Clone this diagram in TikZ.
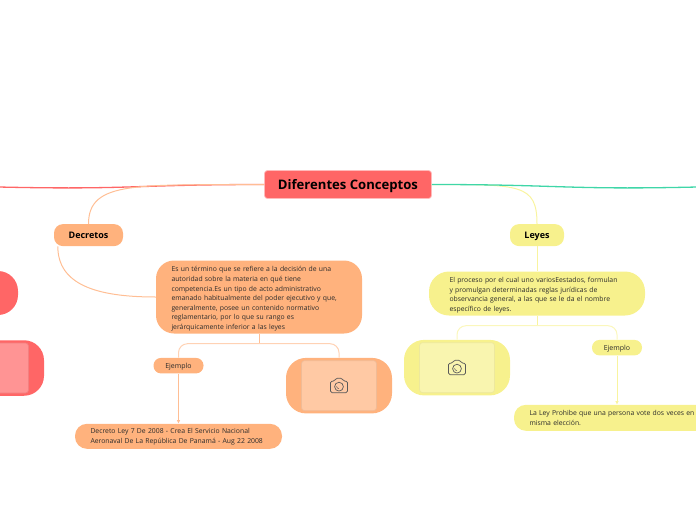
\documentclass[tikz,border=0pt]{standalone}
\usepackage{fontspec}
\setmainfont{Open Sans}
\usepackage{xcolor}
\usetikzlibrary{arrows.meta,positioning}
\definecolor{mapred}{HTML}{FF6666}
\definecolor{maporange}{HTML}{FFB27D}
\definecolor{mapyellow}{HTML}{F7F18D}
\definecolor{mapgreen}{HTML}{3FD6A8}
\definecolor{linkorange}{HTML}{FFBE94}
\definecolor{linkyellow}{HTML}{F9F49F}
\definecolor{mapink}{HTML}{2B2B2B}

\begin{document}
\begin{tikzpicture}[
  x=1pt, y=-1pt,
  node distance=24pt,
  box/.style={rectangle, inner sep=0pt, align=center},
  title/.style={box, rounded corners=3pt, fill=mapred, draw=mapred!45, line width=0.8pt,
    minimum width=167pt, minimum height=28pt, text height=9.5pt, text depth=0pt,
    font=\fontsize{13.1}{15}\selectfont\bfseries},
  branch/.style={box, rounded corners=9pt, minimum height=22pt, text height=6pt, text depth=0pt,
    font=\fontsize{9}{10}\selectfont\bfseries},
  small/.style={box, rounded corners=7.5pt, minimum width=50pt, minimum height=15.5pt,
    text height=5pt, text depth=0pt, text=mapink, font=\fontsize{7}{8}\selectfont},
  textbox/.style={box, align=left, inner xsep=15.5pt, text height=9pt, text=mapink,
    font=\fontsize{6.83}{9.6}\selectfont},
  photo/.style={box, rounded corners=20pt, minimum width=106pt, minimum height=55.5pt},
  frame/.style={box, rounded corners=3pt, minimum width=75pt, minimum height=50pt, line width=0.7pt},
  link/.style={line width=1pt},
  arr/.style={link, -{Latex[length=3.5pt,width=3.5pt]}},
  camera/.pic={
    \draw[black!65, line width=0.7pt, rounded corners=1.5pt]
      (-8.5,-4.5) -- (-4.5,-4.5) -- (-3,-7.5) -- (3,-7.5) -- (4.5,-4.5) -- (8.5,-4.5)
      -- (8.5,7) -- (-8.5,7) -- cycle;
    \draw[black!65, line width=0.7pt] (0,1) circle (4.4pt);
    \draw[black!65, line width=0.5pt] (-2.4,0.6) arc (180:270:2.4pt);
  },
]
  \useasboundingbox (0,0) rectangle (696,520);

  \node[title] (concepts) at (348,184.5) {Diferentes Conceptos};

  % orange side
  \node[branch, fill=maporange, minimum width=69pt, below=25pt of concepts, xshift=-259.5pt] (decretos) {Decretos};
  \node[textbox, fill=maporange, rounded corners=18pt, text width=175pt, minimum height=73pt,
    below=14pt of decretos, xshift=170.5pt] (decretosdef) {Es un término que se refiere a la decisión de una\\
    autoridad sobre la materia en qué tiene\\
    competencia.Es un tipo de acto administrativo\\
    emanado habitualmente del poder ejecutivo y que,\\
    generalmente, posee un contenido normativo\\
    reglamentario, por lo que su rango es\\
    jerárquicamente inferior a las leyes};
  \node[small, fill=maporange, below=of decretosdef, xshift=-80.5pt] (ejemploa) {Ejemplo};
  \node[photo, fill=maporange, below=of decretosdef, xshift=80pt] (fotoa) {};
  \node[frame, fill=maporange!70!white, draw=black!8!maporange!75!white] (marcoa) at (fotoa.center) {};
  \pic at (marcoa.center) {camera};
  \node[textbox, fill=maporange, rounded corners=12pt, text width=176pt, text height=6pt, minimum height=25pt,
    below=50pt of ejemploa] (decretoej) {Decreto Ley 7 De 2008 - Crea El Servicio Nacional\\
    Aeronaval De La República De Panamá - Aug 22 2008};

  % yellow side
  \node[branch, fill=mapyellow, minimum width=54pt, below=25pt of concepts, xshift=189pt] (leyes) {Leyes};
  \node[textbox, fill=mapyellow, rounded corners=20pt, inner xsep=20.5pt, text width=175pt, minimum height=44pt,
    below=25pt of leyes] (leyesdef) {El proceso por el cual uno variosEestados, formulan\\
    y promulgan determinadas reglas jurídicas de\\
    observancia general, a las que se le da el nombre\\
    específico de leyes.};
  \node[photo, fill=mapyellow, below=of leyesdef, xshift=-80pt] (fotob) {};
  \node[frame, fill=mapyellow!70!white, draw=black!6!mapyellow!80!white] (marcob) at (fotob.center) {};
  \pic at (marcob.center) {camera};
  \node[small, fill=mapyellow, below=of leyesdef, xshift=80pt] (ejemplob) {Ejemplo};
  \node[textbox, fill=mapyellow, rounded corners=12pt, text width=175pt, text height=6pt, minimum height=26pt,
    below=49pt of ejemplob] (leyej) {La Ley Prohibe que una persona vote dos veces en\\
    misma elección.};

  % red side, mostly off the page
  \node[textbox, fill=mapred, rounded corners=20pt, minimum width=216pt, minimum height=44pt] (rojodef) at (-90,293) {};
  \node[photo, fill=mapred] (fotoc) at (-9,368) {};
  \node[frame, fill=mapred!70!white, draw=black!6!mapred!80!white] (marcoc) at (fotoc.center) {};

  \coordinate (rojoend) at (-1,187);
  \coordinate (verdeend) at (697,187);
  \coordinate[below=10pt of decretosdef] (barraa);
  \coordinate[below=10pt of leyesdef] (barrab);

  \draw[line width=1.3pt, mapred] (concepts.west) .. controls +(-130,0) and +(130,3) .. (rojoend);
  \draw[link, linkorange] (concepts.west) .. controls +(-125,1) and +(0,-44) .. (decretos.north);
  \draw[link, linkyellow] (concepts.east) .. controls +(88,0) and +(0,-40) .. (leyes.north);
  \draw[line width=1.3pt, mapgreen] (concepts.east) .. controls +(130,0) and +(-130,3) .. (verdeend);

  \draw[link, linkorange] ([xshift=4pt]decretos.south west) .. controls +(0,38) and +(-60,0) .. (decretosdef.west);
  \draw[link, linkorange] (decretosdef.south) -- (barraa);
  \draw[link, linkorange!70!white, rounded corners=9pt] (barraa) -| (ejemploa.north);
  \draw[link, linkorange!70!white, rounded corners=9pt] (barraa) -| (fotoa.north);
  \draw[arr, linkorange] (ejemploa) -- (decretoej);

  \draw[link, linkyellow] (leyes) -- (leyesdef);
  \draw[link, linkyellow] (leyesdef.south) -- (barrab);
  \draw[link, linkyellow!70!white, rounded corners=9pt] (barrab) -| (fotob.north);
  \draw[link, linkyellow!70!white, rounded corners=9pt] (barrab) -| (ejemplob.north);
  \draw[arr, linkyellow] (ejemplob) -- (leyej);
\end{tikzpicture}
\end{document}
